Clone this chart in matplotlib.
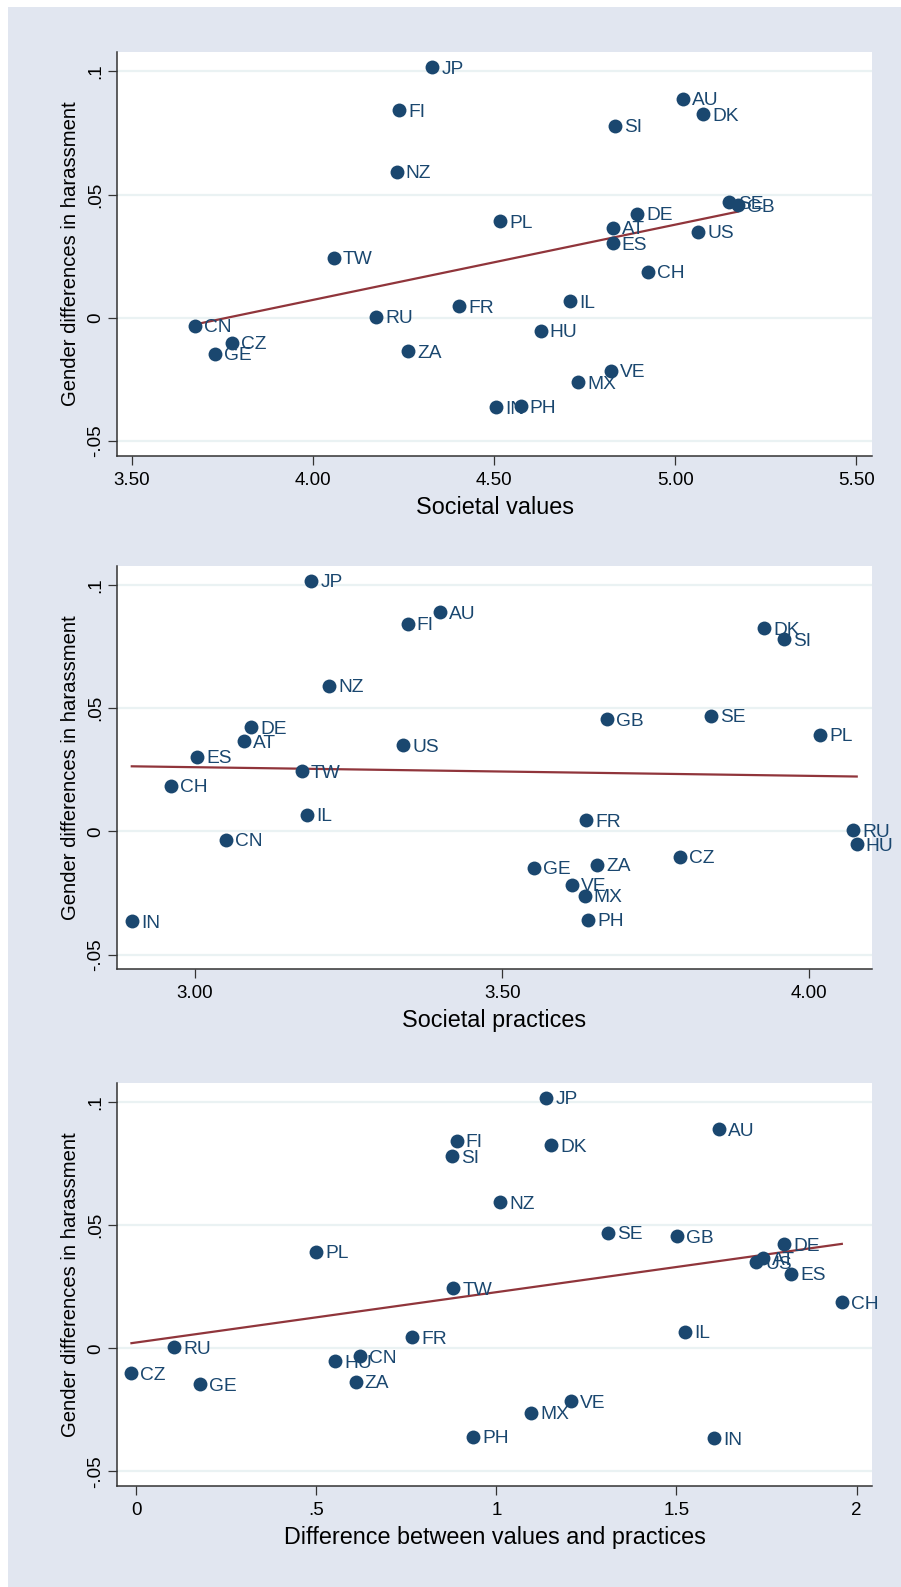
import numpy as np
import matplotlib
matplotlib.use("Agg")
import matplotlib.pyplot as plt
from matplotlib.patches import Rectangle

plt.rcParams['font.family'] = ['Liberation Sans', 'DejaVu Sans']

countries = ["JP", "FI", "NZ", "AU", "DK", "SI", "SE", "GB", "DE", "PL", "AT", "ES", "US", "TW",
             "CH", "IL", "FR", "RU", "CN", "CZ", "GE", "ZA", "HU", "VE", "MX", "IN", "PH"]

harassment = [0.1017, 0.0843, 0.0592, 0.0889, 0.0825, 0.0779, 0.0469, 0.0456, 0.0422, 0.0392,
              0.0365, 0.0303, 0.0349, 0.0244, 0.0186, 0.0068, 0.0046, 0.0004, -0.0033, -0.0102,
              -0.0147, -0.0136, -0.0053, -0.0216, -0.0261, -0.0364, -0.0359]

soc_values = [4.330, 4.238, 4.231, 5.021, 5.077, 4.833, 5.148, 5.172, 4.895, 4.517, 4.827, 4.827,
              5.063, 4.058, 4.925, 4.711, 4.403, 4.175, 3.676, 3.777, 3.731, 4.264, 4.629, 4.822,
              4.732, 4.506, 4.574]

soc_practices = [3.189, 3.346, 3.218, 3.399, 3.926, 3.959, 3.840, 3.671, 3.091, 4.018, 3.080, 3.003,
                 3.339, 3.174, 2.961, 3.182, 3.637, 4.071, 3.050, 3.789, 3.552, 3.654, 4.077, 3.614,
                 3.634, 2.897, 3.640]

difference = [1.139, 0.890, 1.010, 1.619, 1.152, 0.876, 1.309, 1.501, 1.799, 0.499, 1.740, 1.818,
              1.722, 0.880, 1.959, 1.525, 0.766, 0.105, 0.622, -0.013, 0.177, 0.609, 0.553, 1.206,
              1.096, 1.604, 0.935]

y_ticks = [-0.05, 0, 0.05, 0.1]
y_ticklabels = ["-.05", "0", ".05", ".1"]

panels = [
    (soc_values, "Societal values", [3.5, 4.0, 4.5, 5.0, 5.5],
     ["3.50", "4.00", "4.50", "5.00", "5.50"], (3.46, 5.543), 0.7129),
    (soc_practices, "Societal practices", [3.0, 3.5, 4.0],
     ["3.00", "3.50", "4.00"], (2.873, 4.102), 0.3892),
    (difference, "Difference between values and practices", [0, 0.5, 1, 1.5, 2],
     ["0", ".5", "1", "1.5", "2"], (-0.053, 2.043), 0.0635),
]

navy = "#1A476F"
maroon = "#90353B"
bg = "#E1E6F0"

fig = plt.figure(figsize=(9.01, 15.87), dpi=100, facecolor=bg)
# thin white strips on the top and left edges
fig.patches.append(Rectangle((0, 1 - 7 / 1587), 1, 7 / 1587, transform=fig.transFigure,
                             facecolor="white", edgecolor="none"))
fig.patches.append(Rectangle((0, 0), 8 / 901, 1, transform=fig.transFigure,
                             facecolor="white", edgecolor="none"))

for x, xlabel, xt, xtl, xlim, bottom in panels:
    ax = fig.add_axes([0.1299, bottom, 0.838, 0.2541])
    ax.set_facecolor("white")
    ax.scatter(x, harassment, s=100, color=navy, zorder=3, linewidths=0)
    for name, xi, yi in zip(countries, x, harassment):
        ax.annotate(name, (xi, yi), xytext=(6.5, -1.5), textcoords="offset points",
                    ha="left", va="center", fontsize=13.8, color=navy, zorder=4)
    # linear fit
    slope, intercept = np.polyfit(x, harassment, 1)
    xs = np.array([min(x), max(x)])
    ax.plot(xs, slope * xs + intercept, color=maroon, lw=1.6, zorder=2)

    ax.set_xlim(*xlim)
    ax.set_ylim(-0.056, 0.1077)
    ax.set_xticks(xt)
    ax.set_xticklabels(xtl)
    ax.set_yticks(y_ticks)
    ax.set_yticklabels(y_ticklabels, rotation=90, va="center")
    ax.grid(axis="y", color="#EAF2F3", lw=1.6, zorder=0)
    ax.set_axisbelow(True)
    for side in ["top", "right"]:
        ax.spines[side].set_visible(False)
    for side in ["left", "bottom"]:
        ax.spines[side].set_color("#333333")
        ax.spines[side].set_linewidth(1.1)
    ax.tick_params(length=6.5, width=0.9, color="#333333", labelsize=13.5, labelcolor="black")
    ax.tick_params(axis="x", pad=5)
    ax.tick_params(axis="y", pad=3)
    ax.set_xlabel(xlabel, fontsize=16.8, labelpad=5)
    ax.set_ylabel("Gender differences in harassment", fontsize=14.6, labelpad=5)

fig.savefig("out.png", dpi=100, facecolor=fig.get_facecolor())
